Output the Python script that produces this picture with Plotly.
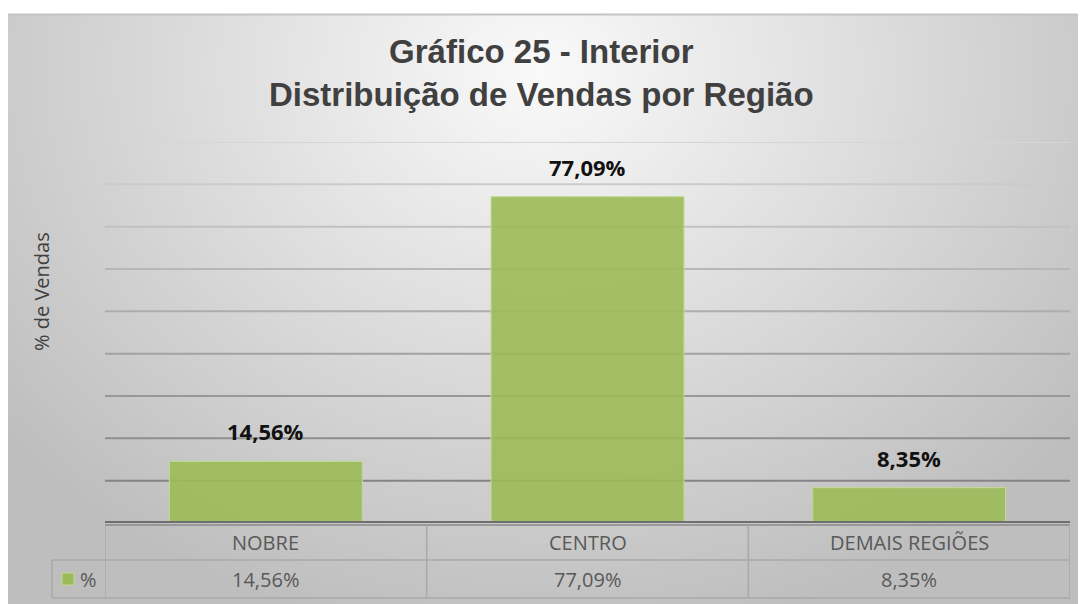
import base64
import struct
import zlib

import numpy as np
import plotly.graph_objects as go

# ---------------- data ----------------
categories = ["NOBRE", "CENTRO", "DEMAIS REGIÕES"]
values = [14.56, 77.09, 8.35]
series_name = "%"
title_lines = ["Gráfico 25 - Interior", "Distribuição de Vendas por Região"]
y_title = "% de Vendas"
y_ticks = [10, 20, 30, 40, 50, 60, 70, 80, 90]

PAGE_W, PAGE_H = 1086, 604
OFF = 8  # default page body margin
W, H = PAGE_W - OFF, PAGE_H - OFF
BAR = "rgba(155,187,89,0.9)"


def X(px):
    return (px - OFF) / W


def Y(py):
    return 1 - (py - OFF) / H


def fmt(v):
    return f"{v:.2f}".replace(".", ",") + "%"


# ---------------- background gradient image ----------------
iw, ih = 540, 295
xs = np.linspace(OFF, PAGE_W, iw)
ys = np.linspace(14, PAGE_H, ih)
gx, gy = np.meshgrid(xs, ys)
d = np.sqrt(((gx - 540) / 720) ** 2 + ((gy - 70) / 600) ** 2)
img = np.clip(250 - 62 * d, 190, 252).astype(np.uint8)
raw = b"".join(b"\x00" + img[r].tobytes() for r in range(ih))


def chunk(tag, data):
    c = struct.pack(">I", len(data)) + tag + data
    return c + struct.pack(">I", zlib.crc32(tag + data) & 0xFFFFFFFF)


png = b"\x89PNG\r\n\x1a\n" + chunk(b"IHDR", struct.pack(">IIBBBBB", iw, ih, 8, 0, 0, 0, 0)) \
    + chunk(b"IDAT", zlib.compress(raw, 9)) + chunk(b"IEND", b"")
bg_uri = "data:image/png;base64," + base64.b64encode(png).decode()

# ---------------- figure ----------------
fig = go.Figure()
fig.add_trace(go.Bar(
    x=categories, y=values, name=series_name,
    marker=dict(color=BAR, line=dict(color="#c5da98", width=1)),
    width=0.6, hoverinfo="x+y", showlegend=False,
))

y_axis_px = 523
y_top_px = 142
fig.update_layout(
    width=W, height=H, autosize=False,
    margin=dict(l=0, r=0, t=0, b=0),
    paper_bgcolor="white", plot_bgcolor="rgba(0,0,0,0)",
    xaxis=dict(domain=[X(105), X(1070)], range=[-0.5, 2.5], showticklabels=False,
               showgrid=False, zeroline=False, fixedrange=True),
    yaxis=dict(domain=[Y(y_axis_px), Y(y_top_px)], range=[0, 90], showticklabels=False,
               showgrid=False, zeroline=False, fixedrange=True),
    showlegend=False,
    images=[dict(source=bg_uri, xref="paper", yref="paper", x=0, y=Y(14),
                 sizex=1, sizey=Y(14), sizing="stretch",
                 xanchor="left", yanchor="top", layer="below")],
)

shapes = []
# top border of chart area
shapes.append(dict(type="line", xref="paper", yref="paper", x0=0, x1=1, y0=Y(14.5), y1=Y(14.5),
                   line=dict(color="#c4c4c4", width=2)))
# gridlines (lighter at top, darker at bottom)
n = len(y_ticks)
for i, t in enumerate(y_ticks):
    frac = i / (n - 1)
    c = int(0x84 + (0xd6 - 0x84) * frac)
    shapes.append(dict(type="line", xref="paper", yref="y", x0=X(105), x1=X(1070), y0=t, y1=t,
                       line=dict(color=f"rgb({c},{c},{c})", width=2), layer="below"))

tbl = "#a9a9a9"
row_mid, row_bot = 560, 598
# axis double line
shapes.append(dict(type="line", xref="paper", yref="paper", x0=X(105), x1=X(1070),
                   y0=Y(522), y1=Y(522), line=dict(color="#6f6f6f", width=2)))
shapes.append(dict(type="line", xref="paper", yref="paper", x0=X(105), x1=X(1070),
                   y0=Y(525), y1=Y(525), line=dict(color="#8a8a8a", width=1.5)))
# table horizontal lines
shapes.append(dict(type="line", xref="paper", yref="paper", x0=X(52), x1=X(1070),
                   y0=Y(row_mid), y1=Y(row_mid), line=dict(color=tbl, width=1.5)))
shapes.append(dict(type="line", xref="paper", yref="paper", x0=X(52), x1=X(1070),
                   y0=Y(row_bot), y1=Y(row_bot), line=dict(color=tbl, width=1.5)))
# table vertical lines at category boundaries
for b in [-0.5 + k for k in range(len(categories) + 1)]:
    shapes.append(dict(type="line", xref="x", yref="paper", x0=b, x1=b,
                       y0=Y(525), y1=Y(row_bot), line=dict(color=tbl, width=1.5)))
# legend cell left edge
shapes.append(dict(type="line", xref="paper", yref="paper", x0=X(52), x1=X(52),
                   y0=Y(row_mid), y1=Y(row_bot), line=dict(color=tbl, width=1.5)))
# legend key
shapes.append(dict(type="rect", xref="paper", yref="paper", x0=X(62), x1=X(74),
                   y0=Y(585), y1=Y(573), fillcolor="#9bbb59",
                   line=dict(color="#c5da98", width=1)))
fig.update_layout(shapes=shapes)

ann = []
# title
ann.append(dict(text="<b>" + "<br>".join(title_lines) + "</b>", xref="paper", yref="paper",
                x=X(541), y=Y(73), xanchor="center", yanchor="middle", showarrow=False,
                font=dict(family="Liberation Sans, Arial", size=33, color="#404040")))
# y axis title
ann.append(dict(text=y_title, xref="paper", yref="paper", x=X(41), y=Y(292), textangle=-90,
                xanchor="center", yanchor="middle", showarrow=False,
                font=dict(family="Open Sans", size=20, color="#404040")))
# data labels
for c, v in zip(categories, values):
    ann.append(dict(text="<b>" + fmt(v) + "</b>", x=c, y=v, xref="x", yref="y",
                    yanchor="bottom", yshift=13, showarrow=False,
                    font=dict(family="Open Sans", size=22, color="#111111")))
# table texts
for c, v in zip(categories, values):
    ann.append(dict(text=c, x=c, y=Y(542), xref="x", yref="paper", yanchor="middle",
                    showarrow=False, font=dict(family="Open Sans", size=20, color="#595959")))
    ann.append(dict(text=fmt(v), x=c, y=Y(579), xref="x", yref="paper", yanchor="middle",
                    showarrow=False, font=dict(family="Open Sans", size=20, color="#595959")))
ann.append(dict(text=series_name, xref="paper", yref="paper", x=X(78), y=Y(579),
                xanchor="left", yanchor="middle", showarrow=False,
                font=dict(family="Open Sans", size=20, color="#595959")))
fig.update_layout(annotations=ann)

fig.write_html("out.html")
